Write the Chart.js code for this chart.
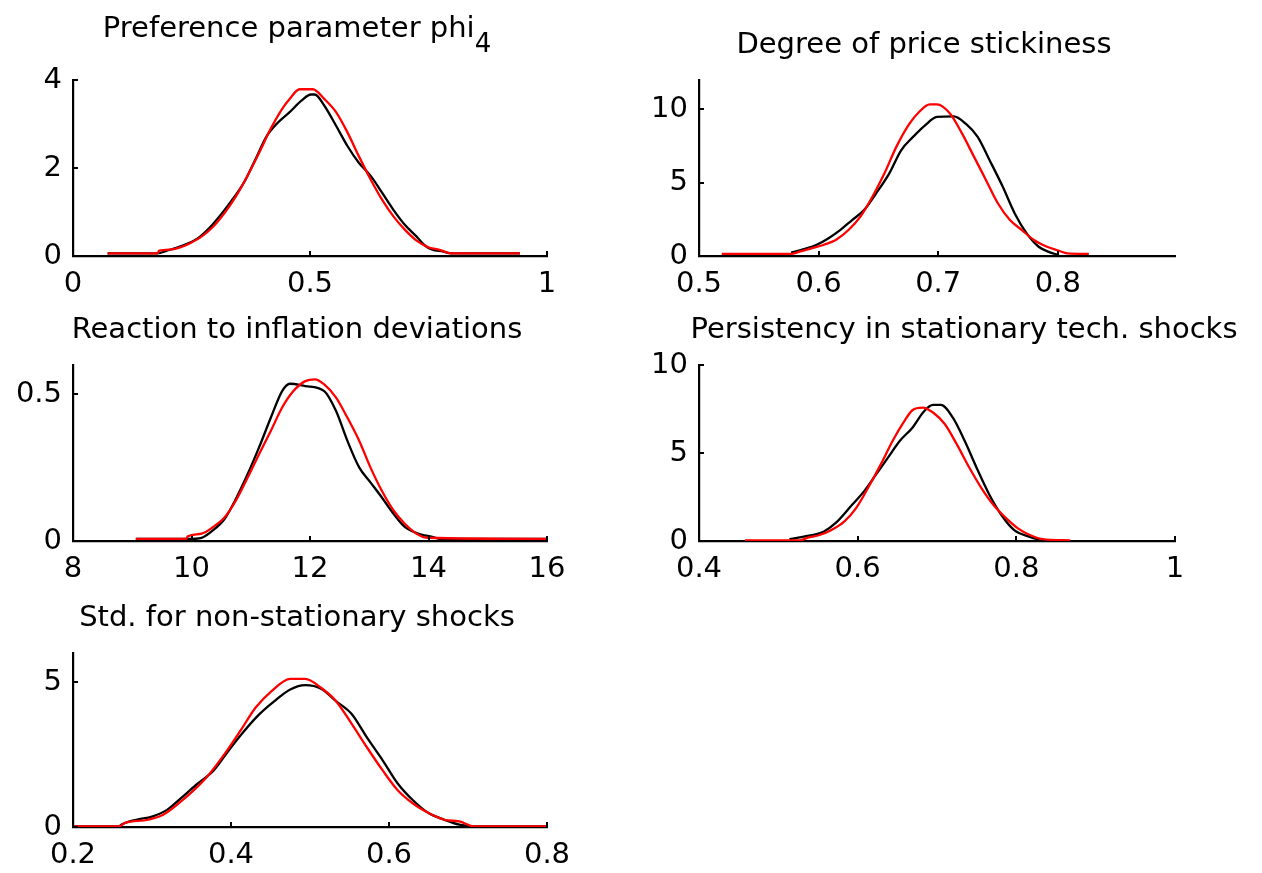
<!DOCTYPE html>
<html><head><meta charset="utf-8">
<script src="https://cdn.jsdelivr.net/npm/chart.js@4.4.0/dist/chart.umd.min.js"></script>
<style>
html,body{margin:0;padding:0;background:#fff;overflow:hidden;width:1262px;height:873px;position:relative;}
canvas{position:absolute;}
</style></head><body>
<script>
// ---------- DATA ----------
const titles = ["Preference parameter phi", "Degree of price stickiness", "Reaction to inflation deviations", "Persistency in stationary tech. shocks", "Std. for non-stationary shocks"];
const titleSubscripts = ["4", "", "", "", ""];

// x ticks / y ticks
const xTicks1 = [0, 0.5, 1],           yTicks1 = [0, 2, 4];
const xTicks2 = [0.5, 0.6, 0.7, 0.8],  yTicks2 = [0, 5, 10];
const xTicks3 = [8, 10, 12, 14, 16],   yTicks3 = [0, 0.5];
const xTicks4 = [0.4, 0.6, 0.8, 1],    yTicks4 = [0, 5, 10];
const xTicks5 = [0.2, 0.4, 0.6, 0.8],  yTicks5 = [0, 5];

// axis ranges
const xRange1 = [0, 1],     yRange1 = [0, 4];
const xRange2 = [0.5, 0.898], yRange2 = [0, 12];
const xRange3 = [8, 16],    yRange3 = [0, 0.6];
const xRange4 = [0.4, 1],   yRange4 = [0, 10];
const xRange5 = [0.2, 0.8], yRange5 = [0, 6];

// Plot 1: Preference parameter phi_4  [x, density]
const phiBlack = [[0.073,0.06],[0.178,0.06],[0.198,0.12],[0.23,0.23],[0.263,0.4],[0.287,0.63],[0.312,0.94],[0.336,1.28],[0.36,1.66],[0.385,2.2],[0.409,2.73],[0.433,3.04],[0.457,3.27],[0.482,3.53],[0.502,3.67],[0.51,3.67],[0.53,3.42],[0.555,2.96],[0.579,2.5],[0.603,2.12],[0.628,1.82],[0.652,1.44],[0.676,1.05],[0.7,0.71],[0.725,0.44],[0.741,0.25],[0.757,0.15],[0.781,0.1],[0.798,0.06],[0.943,0.06]];
const phiRed = [[0.073,0.06],[0.178,0.06],[0.182,0.12],[0.21,0.15],[0.23,0.21],[0.247,0.29],[0.271,0.44],[0.296,0.67],[0.32,0.98],[0.344,1.36],[0.368,1.82],[0.393,2.35],[0.417,2.89],[0.441,3.34],[0.457,3.57],[0.478,3.79],[0.506,3.79],[0.53,3.57],[0.555,3.27],[0.579,2.81],[0.603,2.27],[0.628,1.74],[0.652,1.28],[0.676,0.9],[0.7,0.6],[0.725,0.35],[0.749,0.2],[0.773,0.14],[0.798,0.06],[0.943,0.06]];

// Plot 2: Degree of price stickiness
const stickBlack = [[0.577,0.23],[0.587,0.45],[0.598,0.75],[0.608,1.2],[0.618,1.77],[0.628,2.45],[0.638,3.13],[0.648,4.26],[0.659,5.62],[0.669,7.21],[0.679,8.12],[0.689,8.91],[0.699,9.48],[0.713,9.52],[0.723,9.02],[0.733,8.12],[0.743,6.53],[0.754,4.72],[0.764,2.9],[0.774,1.54],[0.784,0.63],[0.794,0.23],[0.801,0.07]];
const stickRed = [[0.519,0.14],[0.577,0.14],[0.584,0.3],[0.594,0.52],[0.604,0.75],[0.615,1.13],[0.625,1.77],[0.635,2.68],[0.645,4.04],[0.655,5.62],[0.665,7.44],[0.676,9.02],[0.684,9.82],[0.693,10.34],[0.699,10.34],[0.71,9.7],[0.72,8.34],[0.73,6.76],[0.74,5.17],[0.75,3.58],[0.76,2.45],[0.77,1.77],[0.78,1.09],[0.791,0.63],[0.801,0.36],[0.808,0.18],[0.826,0.14]];

// Plot 3: Reaction to inflation deviations
const inflBlack = [[9.06,0.007],[9.94,0.007],[10.17,0.011],[10.36,0.036],[10.56,0.076],[10.75,0.144],[10.95,0.229],[11.14,0.319],[11.34,0.421],[11.53,0.511],[11.66,0.536],[11.92,0.528],[12.24,0.511],[12.44,0.443],[12.63,0.342],[12.83,0.251],[13.02,0.2],[13.21,0.149],[13.41,0.093],[13.6,0.048],[13.8,0.027],[14.12,0.011],[14.18,0.007],[16.03,0.007]];
const inflRed = [[9.06,0.007],[9.91,0.007],[9.94,0.016],[10.17,0.025],[10.36,0.047],[10.56,0.081],[10.75,0.138],[10.95,0.217],[11.14,0.296],[11.34,0.376],[11.53,0.455],[11.72,0.511],[11.92,0.545],[12.08,0.551],[12.24,0.534],[12.44,0.489],[12.63,0.421],[12.83,0.342],[13.02,0.251],[13.21,0.172],[13.41,0.104],[13.6,0.059],[13.8,0.025],[13.99,0.011],[16.03,0.007]];

// Plot 4: Persistency in stationary tech. shocks
const persBlack = [[0.514,0.11],[0.532,0.25],[0.557,0.53],[0.572,1.01],[0.593,2.06],[0.608,2.82],[0.623,3.77],[0.638,4.72],[0.653,5.68],[0.669,6.44],[0.684,7.39],[0.695,7.73],[0.705,7.73],[0.72,7.01],[0.735,5.68],[0.75,4.15],[0.766,2.63],[0.781,1.49],[0.797,0.63],[0.817,0.23],[0.833,0.02]];
const persRed = [[0.458,0.04],[0.527,0.04],[0.537,0.19],[0.552,0.34],[0.567,0.63],[0.583,1.1],[0.598,1.87],[0.613,3.01],[0.629,4.34],[0.644,5.68],[0.659,6.82],[0.669,7.43],[0.682,7.58],[0.695,7.3],[0.71,6.63],[0.725,5.49],[0.741,4.15],[0.756,3.01],[0.771,2.06],[0.787,1.3],[0.802,0.72],[0.817,0.34],[0.833,0.11],[0.868,0.04]];

// Plot 5: Std. for non-stationary shocks
const stdBlack = [[0.2,0.02],[0.258,0.02],[0.261,0.08],[0.28,0.25],[0.3,0.36],[0.319,0.59],[0.339,1.05],[0.358,1.5],[0.378,1.95],[0.397,2.64],[0.417,3.32],[0.436,3.89],[0.455,4.34],[0.475,4.74],[0.494,4.89],[0.514,4.77],[0.533,4.34],[0.553,3.89],[0.572,3.09],[0.592,2.3],[0.611,1.5],[0.63,0.93],[0.65,0.48],[0.67,0.25],[0.689,0.08],[0.708,0.02],[0.803,0.02]];
const stdRed = [[0.2,0.02],[0.258,0.02],[0.266,0.14],[0.295,0.25],[0.314,0.42],[0.334,0.82],[0.353,1.27],[0.373,1.84],[0.392,2.52],[0.412,3.32],[0.431,4.11],[0.451,4.68],[0.475,5.11],[0.494,5.11],[0.514,4.8],[0.533,4.34],[0.553,3.55],[0.572,2.75],[0.592,1.95],[0.611,1.27],[0.63,0.82],[0.65,0.48],[0.67,0.25],[0.689,0.19],[0.708,0.02],[0.803,0.02]];

// ---------- RENDERING ----------
const FONT = "'DejaVu Sans', sans-serif";
const TICK_SIZE = 29, TITLE_SIZE = 29;

const inwardTicks = {
  id: 'inwardTicks',
  afterDraw(chart) {
    const {ctx, chartArea: a, scales: {x, y}} = chart;
    ctx.save();
    ctx.strokeStyle = '#000'; ctx.lineWidth = 2;
    ctx.beginPath();
    x.ticks.forEach(t => { const px = Math.round(x.getPixelForValue(t.value)); ctx.moveTo(px, a.bottom); ctx.lineTo(px, a.bottom - 5); });
    y.ticks.forEach(t => { const py = Math.round(y.getPixelForValue(t.value)); ctx.moveTo(a.left, py); ctx.lineTo(a.left + 5, py); });
    ctx.stroke();
    ctx.restore();
  }
};

function titlePlugin(text, sub, cx, lift) {
  return {
    id: 'mtitle',
    afterDraw(chart) {
      const {ctx, chartArea: a} = chart;
      const canvasLeft = chart.canvas.offsetLeft;
      ctx.save();
      ctx.fillStyle = '#000';
      ctx.textBaseline = 'alphabetic';
      ctx.font = TITLE_SIZE + 'px ' + FONT;
      const w1 = ctx.measureText(text).width;
      let w2 = 0;
      const subFont = Math.round(TITLE_SIZE * 0.9) + 'px ' + FONT;
      if (sub) { ctx.font = subFont; w2 = ctx.measureText(sub).width; }
      const left = (cx - canvasLeft) - (w1 + w2) / 2;
      const base = a.top - lift;
      ctx.font = TITLE_SIZE + 'px ' + FONT;
      ctx.textAlign = 'left';
      ctx.fillText(text, left, sub ? base - 15 : base);
      if (sub) { ctx.font = subFont; ctx.fillText(sub, left + w1, base); }
      ctx.restore();
    }
  };
}

const YW = 80, TOP = 80, R = 100, XH = 52;

function makePlot(p) {
  const plotW = p.right - p.left, plotH = p.bottom - p.top;
  const w = YW + plotW + R, h = TOP + plotH + XH;
  const canvas = document.createElement('canvas');
  canvas.width = w; canvas.height = h;
  canvas.style.width = w + 'px'; canvas.style.height = h + 'px';
  canvas.style.left = (p.left - YW) + 'px';
  canvas.style.top = (p.top - TOP) + 'px';
  document.body.appendChild(canvas);
  const fmt = v => String(+v.toFixed(3));
  const ds = (arr, color, order) => ({data: arr.map(d => ({x: d[0], y: d[1]})), showLine: true, borderColor: color, borderWidth: 2.3, pointRadius: 0, cubicInterpolationMode: 'monotone', order: order});
  new Chart(canvas, {
    type: 'scatter',
    data: {datasets: [ds(p.black, '#000000', 1), ds(p.red, '#ff0000', 0)]},
    options: {
      responsive: false, animation: false, devicePixelRatio: 1,
      layout: {padding: {top: TOP, right: R, left: 0, bottom: 0}},
      plugins: {legend: {display: false}, tooltip: {enabled: false}, title: {display: false}},
      scales: {
        x: {
          type: 'linear', min: p.xr[0], max: p.xr[1],
          afterBuildTicks: s => { s.ticks = p.xt.map(v => ({value: v})); },
          afterFit: s => { s.height = XH; },
          grid: {display: false, drawTicks: false},
          border: {display: true, color: '#000', width: 2.2},
          ticks: {color: '#000', padding: 11, maxRotation: 0, autoSkip: false, font: {family: FONT, size: TICK_SIZE}, callback: fmt}
        },
        y: {
          type: 'linear', min: p.yr[0], max: p.yr[1],
          afterBuildTicks: s => { s.ticks = p.yt.map(v => ({value: v})); },
          afterFit: s => { s.width = YW; },
          grid: {display: false, drawTicks: false},
          border: {display: true, color: '#000', width: 2.2},
          ticks: {color: '#000', padding: 11, autoSkip: false, font: {family: FONT, size: TICK_SIZE}, callback: fmt}
        }
      }
    },
    plugins: [inwardTicks, titlePlugin(p.title, p.sub, p.tcx, p.sub ? 28 : 27)]
  });
}

makePlot({left: 73, right: 547, top: 80, bottom: 256, xr: xRange1, yr: yRange1, xt: xTicks1, yt: yTicks1, black: phiBlack, red: phiRed, title: titles[0], sub: titleSubscripts[0], tcx: 297});
makePlot({left: 699, right: 1175, top: 80, bottom: 256, xr: xRange2, yr: yRange2, xt: xTicks2, yt: yTicks2, black: stickBlack, red: stickRed, title: titles[1], sub: titleSubscripts[1], tcx: 924});
makePlot({left: 73, right: 547, top: 365, bottom: 541, xr: xRange3, yr: yRange3, xt: xTicks3, yt: yTicks3, black: inflBlack, red: inflRed, title: titles[2], sub: titleSubscripts[2], tcx: 297});
makePlot({left: 699, right: 1175, top: 365, bottom: 541, xr: xRange4, yr: yRange4, xt: xTicks4, yt: yTicks4, black: persBlack, red: persRed, title: titles[3], sub: titleSubscripts[3], tcx: 964});
makePlot({left: 73, right: 547, top: 653, bottom: 827, xr: xRange5, yr: yRange5, xt: xTicks5, yt: yTicks5, black: stdBlack, red: stdRed, title: titles[4], sub: titleSubscripts[4], tcx: 297});
</script>
</body></html>
